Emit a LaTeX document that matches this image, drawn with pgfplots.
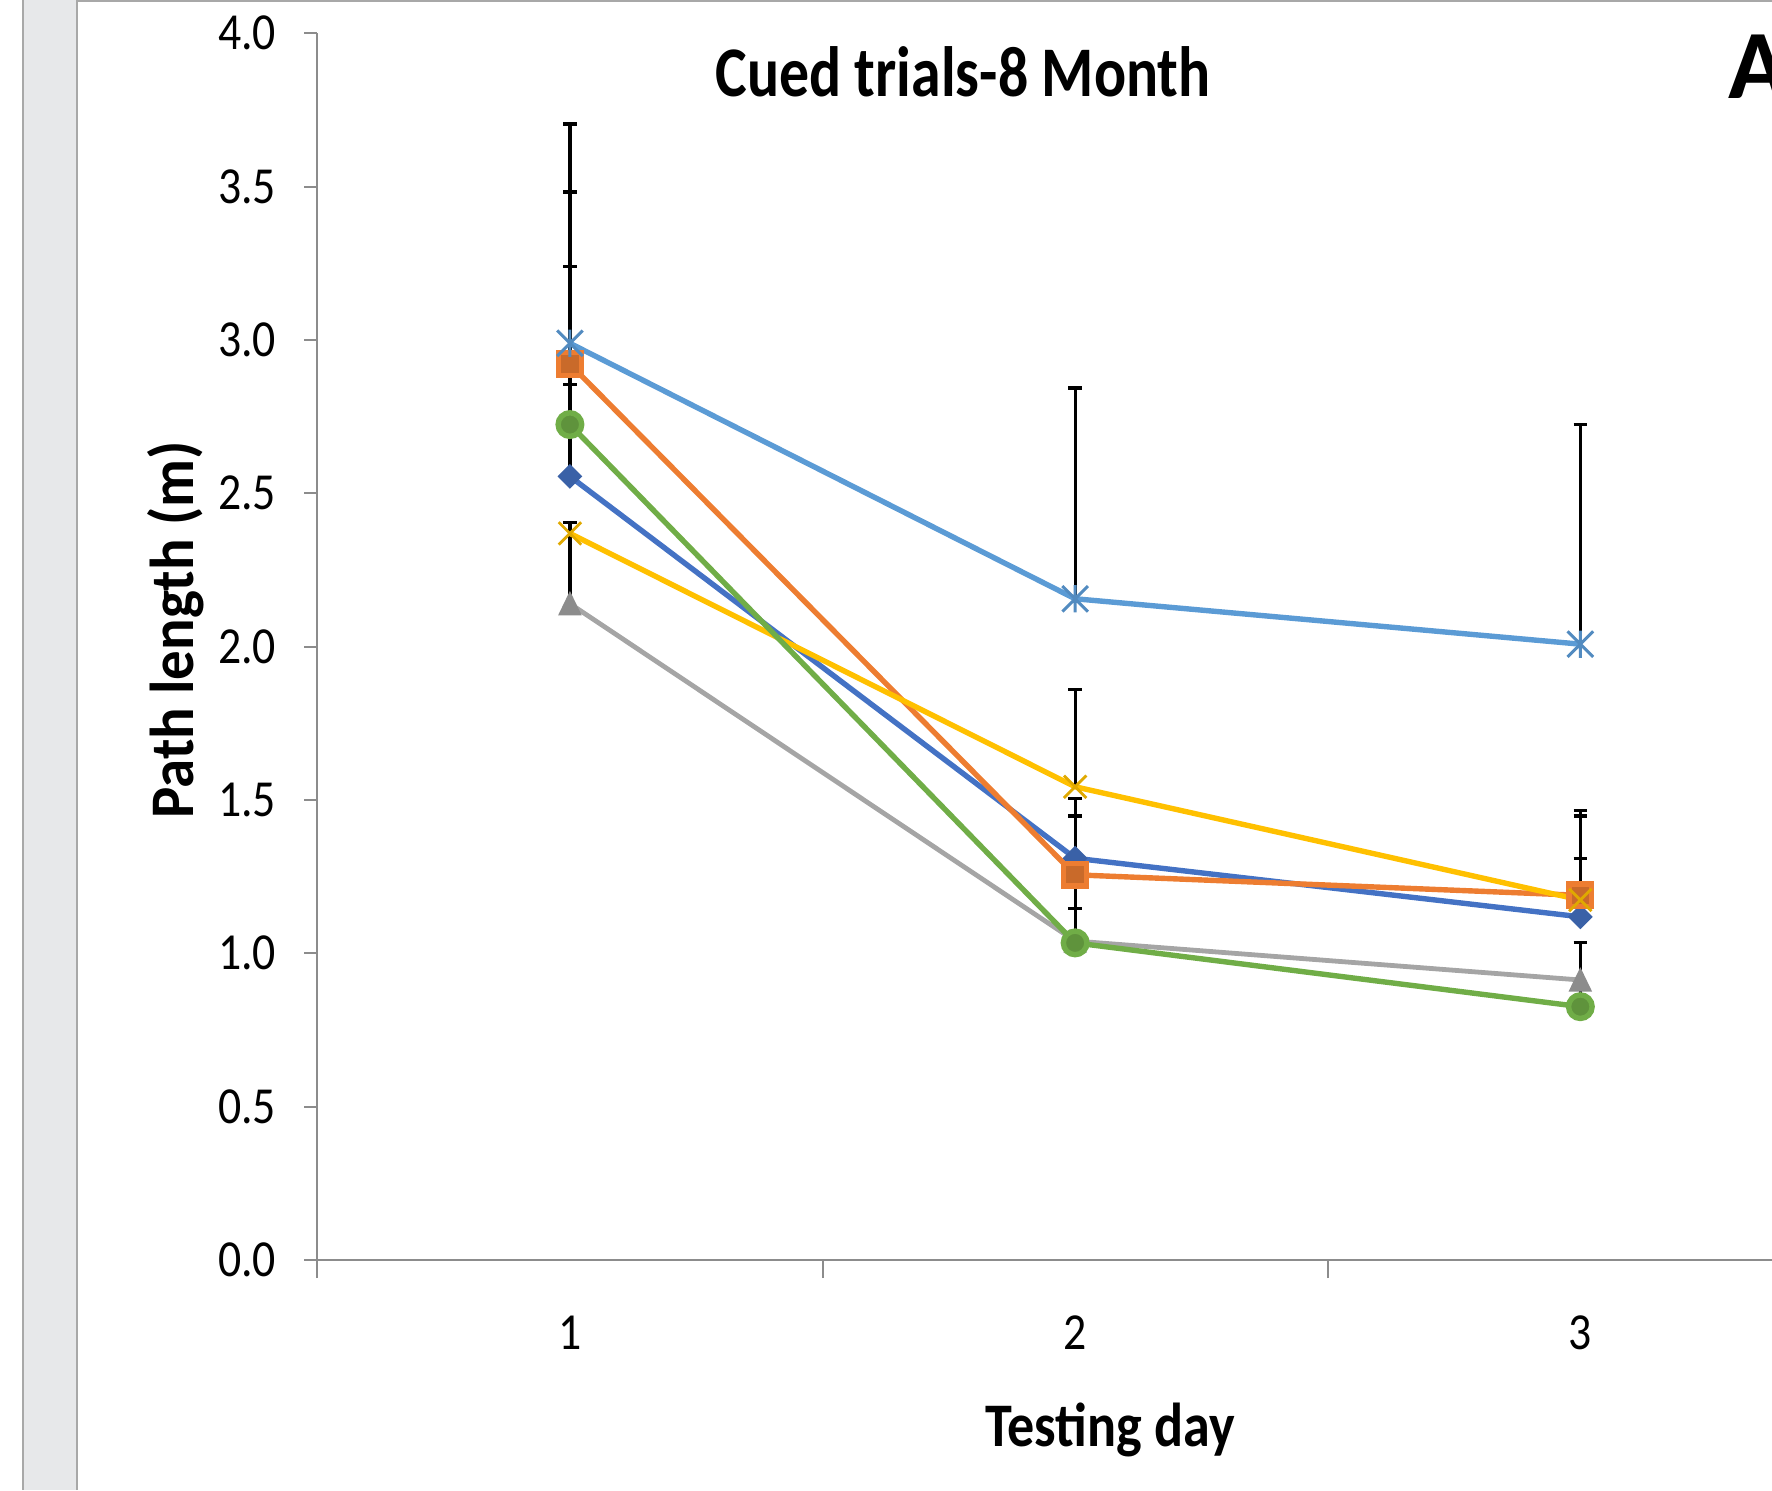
\documentclass[border=0pt]{standalone}
\usepackage{fontspec}
\setmainfont{Carlito}
\usepackage{graphicx}
\usepackage{pgfplots}
\pgfplotsset{compat=1.18}

\definecolor{sBlue}{HTML}{4472C4}
\definecolor{sOrange}{HTML}{ED7D31}
\definecolor{sGray}{HTML}{A5A5A5}
\definecolor{sGold}{HTML}{FFC000}
\definecolor{sSky}{HTML}{5B9BD5}
\definecolor{sGreen}{HTML}{70AD47}
\definecolor{axisgray}{HTML}{8C8C8C}
\definecolor{panel}{HTML}{E7E8EA}
\definecolor{panelline}{HTML}{A8A8A8}

% Excel-like markers
\pgfdeclareplotmark{xldiamond}{%
  \pgfpathmoveto{\pgfqpoint{0pt}{3.1pt}}%
  \pgfpathlineto{\pgfqpoint{3.1pt}{0pt}}%
  \pgfpathlineto{\pgfqpoint{0pt}{-3.1pt}}%
  \pgfpathlineto{\pgfqpoint{-3.1pt}{0pt}}%
  \pgfpathclose\pgfusepathqfill}
\pgfdeclareplotmark{xltriangle}{%
  \pgfpathmoveto{\pgfqpoint{0pt}{3.2pt}}%
  \pgfpathlineto{\pgfqpoint{2.95pt}{-2.9pt}}%
  \pgfpathlineto{\pgfqpoint{-2.95pt}{-2.9pt}}%
  \pgfpathclose\pgfusepathqfill}
\pgfdeclareplotmark{xlcross}{%
  \pgfpathmoveto{\pgfqpoint{-2.8pt}{-2.8pt}}\pgfpathlineto{\pgfqpoint{2.8pt}{2.8pt}}%
  \pgfpathmoveto{\pgfqpoint{-2.8pt}{2.8pt}}\pgfpathlineto{\pgfqpoint{2.8pt}{-2.8pt}}%
  \pgfusepathqstroke}
\pgfdeclareplotmark{xlstar}{%
  \pgfpathmoveto{\pgfqpoint{-3.2pt}{-3.2pt}}\pgfpathlineto{\pgfqpoint{3.2pt}{3.2pt}}%
  \pgfpathmoveto{\pgfqpoint{-3.2pt}{3.2pt}}\pgfpathlineto{\pgfqpoint{3.2pt}{-3.2pt}}%
  \pgfpathmoveto{\pgfqpoint{0pt}{-3.4pt}}\pgfpathlineto{\pgfqpoint{0pt}{3.4pt}}%
  \pgfusepathqstroke}

\pgfplotsset{
  ebar/.style={
    error bars/y dir=plus,
    error bars/y explicit,
    error bars/error bar style={black, line width=0.8pt, solid},
    error bars/error mark options={black, line width=0.8pt, mark size=1.67pt, rotate=90},
  },
}

\begin{document}
\begin{tikzpicture}
  % page frame
  \path[use as bounding box] (0,0) rectangle (443pt,372.5pt);
  \fill[panel] (5.8pt,0) rectangle (19.2pt,372.5pt);
  \draw[panelline, line width=0.45pt] (5.8pt,0) -- (5.8pt,372.5pt);
  \draw[panelline, line width=0.45pt] (19.2pt,0) -- (19.2pt,372.5pt);
  \draw[panelline, line width=0.4pt] (19.2pt,372.25pt) -- (443pt,372.25pt);
  \clip (0,0) rectangle (443pt,372.5pt);

  \begin{axis}[
    scale only axis,
    width=378.9pt, height=306.7pt,
    at={(79.33pt,57.5pt)}, anchor=south west,
    xmin=0.5, xmax=3.5, ymin=0, ymax=4,
    axis x line*=bottom, axis y line*=left,
    axis line style={-, draw=axisgray, line width=0.5pt},
    xtick={1,2,3},
    minor xtick={0.5,1.5,2.5,3.5},
    ytick={0,0.5,...,4},
    tick align=outside,
    major tick length=3.25pt,
    minor tick length=4.5pt,
    every major x tick/.append style={draw=none},
    every minor x tick/.append style={draw=axisgray, line width=0.5pt},
    every major y tick/.append style={draw=axisgray, line width=0.5pt},
    /pgf/number format/assume math mode=true,
    tick label style={font=\fontsize{13}{15.6}\selectfont, xscale=0.88},
    yticklabel style={anchor=east, inner sep=0pt, xshift=-7.8pt,
      /pgf/number format/.cd, fixed, fixed zerofill, precision=1},
    xticklabel style={anchor=north, inner sep=0pt, yshift=-10.5pt},
  ]
    % series 1
    \addplot[sBlue, line width=1.35pt, mark=xldiamond,
      mark options={fill=sBlue!85!black}, ebar]
      coordinates {(1,2.555) += (0,0.300) (2,1.310) += (0,0.195) (3,1.119) += (0,0.191)};
    % series 2
    \addplot[sOrange, line width=1.35pt, mark=square*, mark size=2.85pt,
      mark options={fill=sOrange!85!black, draw=none}, ebar]
      coordinates {(1,2.921) += (0,0.561) (2,1.256) += (0,0.192) (3,1.189) += (0,0.276)};
    % series 3
    \addplot[sGray, line width=1.2pt, mark=xltriangle,
      mark options={fill=sGray!85!black}, ebar]
      coordinates {(1,2.140) += (0,0.264) (2,1.040) += (0,0.174) (3,0.913) += (0,0.122)};
    % series 4
    \addplot[sGold, line width=1.35pt, mark=xlcross,
      mark options={draw=sGold!88!black, line width=0.7pt}, ebar]
      coordinates {(1,2.369) += (0,0.035) (2,1.543) += (0,0.316) (3,1.174) += (0,0.274)};
    % series 5
    \addplot[sSky, line width=1.35pt, mark=xlstar,
      mark options={draw=sSky!90!black, line width=0.75pt}, ebar]
      coordinates {(1,2.989) += (0,0.715) (2,2.156) += (0,0.687) (3,2.008) += (0,0.715)};
    % series 6
    \addplot[sGreen, line width=1.35pt, mark=*, mark size=2.95pt,
      mark options={fill=sGreen!85!black, draw=none}, ebar]
      coordinates {(1,2.724) += (0,0.516) (2,1.034) += (0,0.113) (3,0.826) += (0,0.080)};
  \end{axis}

  \node[anchor=base, font=\fontsize{17.8}{21}\selectfont\bfseries]
    at (240.75pt,348.3pt) {\scalebox{0.84}[1]{Cued trials-8 Month}};
  \node[anchor=base, font=\fontsize{15.5}{18.6}\selectfont\bfseries]
    at (277.5pt,10.8pt) {\scalebox{0.873}[1]{Testing day}};
  \node[anchor=base, rotate=90, font=\fontsize{15.5}{18.6}\selectfont\bfseries]
    at (48.3pt,215pt) {\scalebox{0.95}[1]{Path length (m)}};
  \node[anchor=base west, inner sep=0pt, font=\fontsize{24.5}{29}\selectfont\bfseries]
    at (432pt,347.9pt) {A};
\end{tikzpicture}
\end{document}
